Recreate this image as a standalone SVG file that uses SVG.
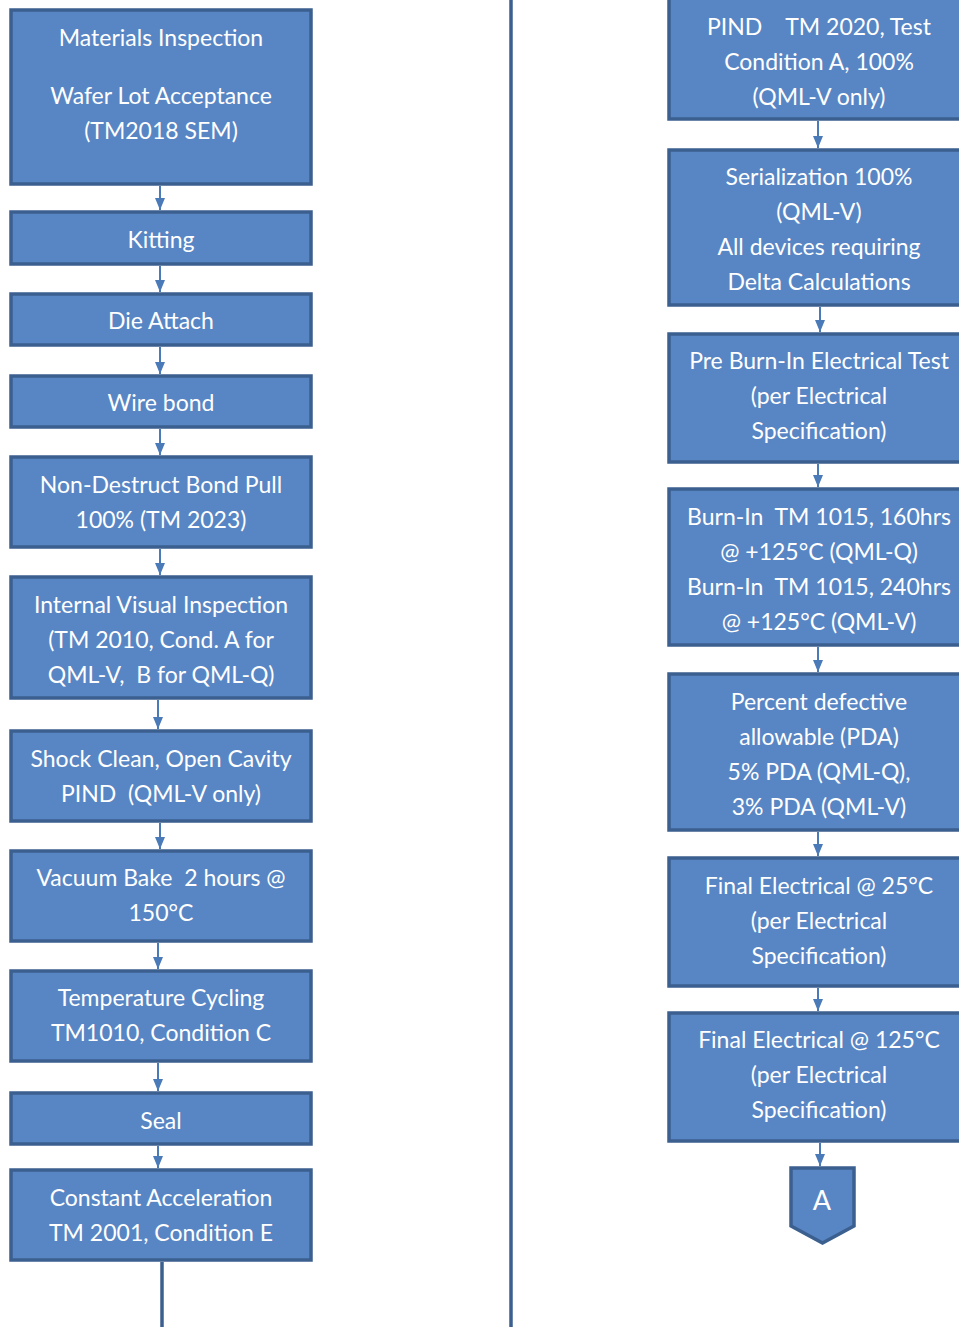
<svg xmlns="http://www.w3.org/2000/svg" width="959" height="1327" viewBox="0 0 959 1327">
<style>
.box{fill:#5886c4;stroke:#3b5f8e;stroke-width:3.5}
.t{font-family:Lato,"Open Sans","Liberation Sans",sans-serif;font-size:23px;fill:#ffffff;text-anchor:middle}
.c{stroke:#4a7ab8;stroke-width:2;fill:none}
.ln{stroke:#3b5f8e;stroke-width:3.5;fill:none}
</style>
<defs>
<marker id="ah" viewBox="0 0 12 10" refX="12" refY="5" markerWidth="12" markerHeight="10" markerUnits="userSpaceOnUse" orient="auto">
<path d="M0,0 L12,5 L0,10 z" fill="#4a7ab8"/>
</marker>
</defs>
<g id="connectors">
<line class="ln" x1="511" y1="0" x2="511" y2="1327"/>
<line class="ln" x1="162" y1="1262" x2="162" y2="1327"/>
<line class="c" x1="160" y1="186" x2="160" y2="210" marker-end="url(#ah)"/>
<line class="c" x1="160" y1="266" x2="160" y2="292" marker-end="url(#ah)"/>
<line class="c" x1="160" y1="347" x2="160" y2="374" marker-end="url(#ah)"/>
<line class="c" x1="160" y1="429" x2="160" y2="455" marker-end="url(#ah)"/>
<line class="c" x1="160" y1="549" x2="160" y2="575" marker-end="url(#ah)"/>
<line class="c" x1="158" y1="700" x2="158" y2="729" marker-end="url(#ah)"/>
<line class="c" x1="160" y1="823" x2="160" y2="849" marker-end="url(#ah)"/>
<line class="c" x1="158" y1="943" x2="158" y2="969" marker-end="url(#ah)"/>
<line class="c" x1="158" y1="1063" x2="158" y2="1091" marker-end="url(#ah)"/>
<line class="c" x1="158" y1="1146" x2="158" y2="1168" marker-end="url(#ah)"/>
<line class="c" x1="818" y1="121" x2="818" y2="148" marker-end="url(#ah)"/>
<line class="c" x1="820" y1="307" x2="820" y2="332" marker-end="url(#ah)"/>
<line class="c" x1="818" y1="464" x2="818" y2="487" marker-end="url(#ah)"/>
<line class="c" x1="818" y1="647" x2="818" y2="672" marker-end="url(#ah)"/>
<line class="c" x1="818" y1="832" x2="818" y2="856" marker-end="url(#ah)"/>
<line class="c" x1="818" y1="988" x2="818" y2="1011" marker-end="url(#ah)"/>
<line class="c" x1="820" y1="1143" x2="820" y2="1166" marker-end="url(#ah)"/>
</g>
<g id="n1"><rect class="box" x="11" y="10" width="300" height="174"/>
<text class="t" x="161" y="46">Materials Inspection</text>
<text class="t" x="161" y="104">Wafer Lot Acceptance</text>
<text class="t" x="161" y="139">(TM2018 SEM)</text></g>
<g id="n2"><rect class="box" x="11" y="212" width="300" height="52"/>
<text class="t" x="161" y="248">Kitting</text></g>
<g id="n3"><rect class="box" x="11" y="294" width="300" height="51"/>
<text class="t" x="161" y="329">Die Attach</text></g>
<g id="n4"><rect class="box" x="11" y="376" width="300" height="51"/>
<text class="t" x="161" y="411">Wire bond</text></g>
<g id="n5"><rect class="box" x="11" y="457" width="300" height="90"/>
<text class="t" x="161" y="493">Non-Destruct Bond Pull</text>
<text class="t" x="161" y="528">100% (TM 2023)</text></g>
<g id="n6"><rect class="box" x="11" y="577" width="300" height="121"/>
<text class="t" x="161" y="613">Internal Visual Inspection</text>
<text class="t" x="161" y="648">(TM 2010, Cond. A for</text>
<text class="t" x="161" y="683" xml:space="preserve">QML-V,  B for QML-Q)</text></g>
<g id="n7"><rect class="box" x="11" y="731" width="300" height="90"/>
<text class="t" x="161" y="767">Shock Clean, Open Cavity</text>
<text class="t" x="161" y="802" xml:space="preserve">PIND  (QML-V only)</text></g>
<g id="n8"><rect class="box" x="11" y="851" width="300" height="90"/>
<text class="t" x="161" y="886" xml:space="preserve">Vacuum Bake  2 hours @</text>
<text class="t" x="161" y="921">150°C</text></g>
<g id="n9"><rect class="box" x="11" y="971" width="300" height="90"/>
<text class="t" x="161" y="1006">Temperature Cycling</text>
<text class="t" x="161" y="1041">TM1010, Condition C</text></g>
<g id="n10"><rect class="box" x="11" y="1093" width="300" height="51"/>
<text class="t" x="161" y="1129">Seal</text></g>
<g id="n11"><rect class="box" x="11" y="1170" width="300" height="90"/>
<text class="t" x="161" y="1206">Constant Acceleration</text>
<text class="t" x="161" y="1241">TM 2001, Condition E</text></g>
<g id="r1"><rect class="box" x="669" y="-2" width="300" height="121"/>
<text class="t" x="819" y="35" xml:space="preserve">PIND    TM 2020, Test</text>
<text class="t" x="819" y="70">Condition A, 100%</text>
<text class="t" x="819" y="105">(QML-V only)</text></g>
<g id="r2"><rect class="box" x="669" y="150" width="300" height="155"/>
<text class="t" x="819" y="185">Serialization 100%</text>
<text class="t" x="819" y="220">(QML-V)</text>
<text class="t" x="819" y="255">All devices requiring</text>
<text class="t" x="819" y="290">Delta Calculations</text></g>
<g id="r3"><rect class="box" x="669" y="334" width="300" height="128"/>
<text class="t" x="819" y="369">Pre Burn-In Electrical Test</text>
<text class="t" x="819" y="404">(per Electrical</text>
<text class="t" x="819" y="439">Specification)</text></g>
<g id="r4"><rect class="box" x="669" y="489" width="300" height="156"/>
<text class="t" x="819" y="525" xml:space="preserve">Burn-In  TM 1015, 160hrs</text>
<text class="t" x="819" y="560">@ +125°C (QML-Q)</text>
<text class="t" x="819" y="595" xml:space="preserve">Burn-In  TM 1015, 240hrs</text>
<text class="t" x="819" y="630">@ +125°C (QML-V)</text></g>
<g id="r5"><rect class="box" x="669" y="674" width="300" height="156"/>
<text class="t" x="819" y="710">Percent defective</text>
<text class="t" x="819" y="745">allowable (PDA)</text>
<text class="t" x="819" y="780">5% PDA (QML-Q),</text>
<text class="t" x="819" y="815">3% PDA (QML-V)</text></g>
<g id="r6"><rect class="box" x="669" y="858" width="300" height="128"/>
<text class="t" x="819" y="894">Final Electrical @ 25°C</text>
<text class="t" x="819" y="929">(per Electrical</text>
<text class="t" x="819" y="964">Specification)</text></g>
<g id="r7"><rect class="box" x="669" y="1013" width="300" height="128"/>
<text class="t" x="819" y="1048">Final Electrical @ 125°C</text>
<text class="t" x="819" y="1083">(per Electrical</text>
<text class="t" x="819" y="1118">Specification)</text></g>
<g id="conA"><path class="box" d="M791,1168 L854,1168 L854,1226 L822.5,1243 L791,1226 Z"/>
<text class="t" x="822" y="1210" style="font-size:27px">A</text></g>
</svg>
